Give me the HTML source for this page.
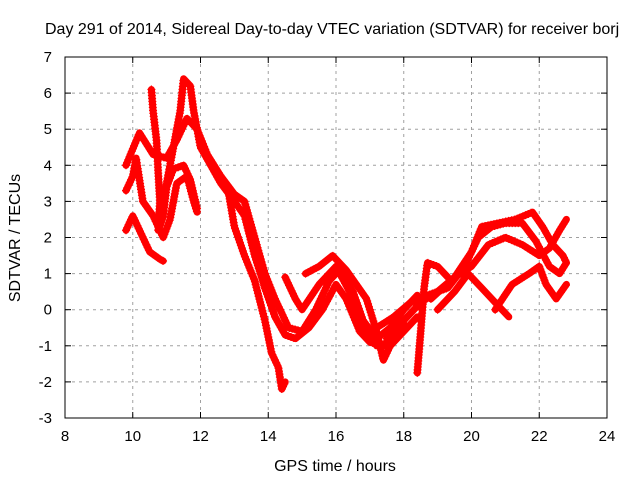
<!DOCTYPE html>
<html><head><meta charset="utf-8"><style>
body{margin:0;background:#fff}
svg text{font-family:"Liberation Sans",sans-serif;font-size:15px;fill:#000}
svg text.big{font-size:16px}
</style></head><body>
<svg id="c" width="640" height="480">
<text class="big" x="45" y="34">Day 291 of 2014, Sidereal Day-to-day VTEC variation (SDTVAR) for receiver borj</text>
<text class="big" x="335" y="471" text-anchor="middle">GPS time / hours</text>
<text class="big" x="20" y="238" text-anchor="middle" transform="rotate(-90 20 238)">SDTVAR / TECUs</text>
<g id="grid"></g><g id="marks"></g>
<rect x="65" y="57" width="542" height="361" fill="none" stroke="#000"/>
<g id="ticks"></g>
</svg>
<script>
const xTicks=[8,10,12,14,16,18,20,22,24];
const yTicks=[-3,-2,-1,0,1,2,3,4,5,6,7];
const track1=[[10.8,2.5],[11.0,3.5],[11.2,4.5],[11.4,5.5],[11.5,6.4],[11.7,6.2],[11.8,5.5],[12.0,4.5],[12.3,4.0],[12.6,3.5],[13.0,3.0],[13.3,2.6],[13.6,1.5],[13.9,0.6],[14.2,-0.2],[14.5,-0.7],[14.8,-0.8],[15.2,-0.5],[15.6,0.0],[16.0,0.7],[16.3,0.3],[16.7,-0.6],[17.0,-0.9],[17.4,-1.0]];
const track2=[[9.8,4.0],[10.2,4.9],[10.6,4.3],[11.0,4.2],[11.3,4.7],[11.6,5.3],[11.9,5.0],[12.2,4.3],[12.6,3.7],[13.0,3.2],[13.3,3.0],[13.6,2.0],[13.9,1.0],[14.2,0.3],[14.6,-0.5],[15.0,-0.6],[15.4,0.0],[15.8,0.8],[16.1,1.1],[16.5,0.5],[16.8,-0.3],[17.2,-0.8],[17.6,-0.5],[18.0,0.0],[18.4,0.4]];
const track3=[[10.55,6.1],[10.6,5.5],[10.7,4.7],[10.75,3.8],[10.8,3.0],[10.75,2.2],[10.9,2.6],[11.0,3.4],[11.2,3.9],[11.5,4.0],[11.7,3.6],[11.9,2.8]];
const track4=[[12.8,3.4],[13.0,2.3],[13.3,1.5],[13.6,0.8],[13.9,-0.3],[14.1,-1.2],[14.3,-1.6],[14.4,-2.2],[14.5,-2.0]];
const track5=[[9.8,2.2],[10.0,2.6],[10.3,2.0],[10.5,1.6],[10.8,1.4],[10.9,1.35]];
const track6=[[9.8,3.3],[10.0,3.7],[10.1,4.2],[10.3,3.0],[10.6,2.6],[10.9,2.0],[11.1,2.5],[11.3,3.5],[11.6,3.7],[11.8,3.0],[11.9,2.7]];
const track7=[[15.1,1.0],[15.5,1.2],[15.9,1.5],[16.3,1.1],[16.9,0.3],[17.2,-0.6],[17.4,-1.4],[17.6,-1.0],[18.0,-0.6],[18.4,-0.2]];
const track8=[[18.4,-1.75],[18.5,-0.6],[18.6,0.6],[18.7,1.3],[19.0,1.2],[19.3,0.9]];
const track9=[[17.5,-0.8],[18.0,-0.3],[18.5,0.2],[19.0,0.5],[19.5,0.9],[20.0,1.6],[20.3,2.3],[20.8,2.4],[21.3,2.5],[21.8,2.7],[22.1,2.3],[22.4,1.8],[22.7,1.5],[22.8,1.3]];
const track10=[[17.2,-0.5],[17.7,-0.2],[18.2,0.2],[18.7,0.4],[19.3,0.6],[19.8,1.2],[20.2,2.0],[20.6,2.3],[21.0,2.4],[21.5,2.4],[21.9,1.9],[22.3,1.2],[22.6,1.0],[22.8,1.3]];
const track11=[[19.0,0.0],[19.5,0.5],[19.9,1.0],[20.3,0.6],[20.8,0.1],[21.1,-0.2]];
const track12=[[20.7,0.0],[21.2,0.7],[21.7,1.0],[22.0,1.2],[22.2,0.7],[22.5,0.3],[22.8,0.7]];
const track13=[[18.8,0.3],[19.5,0.9],[20.0,1.2],[20.5,1.8],[21.0,2.0],[21.5,1.8],[22.0,1.5],[22.3,1.7],[22.6,2.2],[22.8,2.5]];
const track14=[[14.5,0.9],[14.8,0.3],[15.0,0.0],[15.5,0.7],[16.0,1.2],[16.4,0.5],[16.8,-0.4],[17.2,-1.0],[17.6,-0.9],[18.0,-0.4]];
const tracks=[track1,track2,track3,track4,track5,track6,track7,track8,track9,track10,track11,track12,track13,track14];
const X=v=>65+(v-8)*542/16, Y=v=>418-(v+3)*361/10;
const NS="http://www.w3.org/2000/svg";
const grid=document.getElementById('grid'),tk=document.getElementById('ticks'),mk=document.getElementById('marks');
function mkEl(t,a,p){const e=document.createElementNS(NS,t);for(const k in a)e.setAttribute(k,a[k]);p.appendChild(e);return e;}
xTicks.forEach(v=>{const x=X(v);
 if(v>8&&v<24){const g=mkEl('line',{x1:x,x2:x,y1:57,y2:418,stroke:'#a0a0a0','stroke-dasharray':'3,4'},grid);
 
 }
 mkEl('line',{x1:x,x2:x,y1:418,y2:412,stroke:'#000'},tk);mkEl('line',{x1:x,x2:x,y1:57,y2:63,stroke:'#000'},tk);
 const t=mkEl('text',{x:x,y:441,'text-anchor':'middle'},tk);t.textContent=v;
 
 });
yTicks.forEach(v=>{const y=Y(v);
 if(v>-3&&v<7){const g=mkEl('line',{x1:65,x2:607,y1:y,y2:y,stroke:'#a0a0a0','stroke-dasharray':'3,4'},grid);
 
 }
 mkEl('line',{x1:65,x2:71,y1:y,y2:y,stroke:'#000'},tk);mkEl('line',{x1:607,x2:601,y1:y,y2:y,stroke:'#000'},tk);
 const t=mkEl('text',{x:52,y:y+5,'text-anchor':'end'},tk);t.textContent=v;
 
 });
tracks.forEach(tr=>{
 const d=tr.map((p,i)=>(i?'L':'M')+X(p[0]).toFixed(1)+' '+Y(p[1]).toFixed(1)).join(' ');
 const path=mkEl('path',{d:d,fill:'none',stroke:'#ff0000','stroke-width':7,'stroke-linejoin':'round','stroke-linecap':'round'},mk);
 
 
 const L=path.getTotalLength();let s='';
 for(let l=0;l<=L;l+=3){const q=path.getPointAtLength(l);s+=`M${q.x-4} ${q.y}h8M${q.x} ${q.y-4}v8`;}
 const m=mkEl('path',{d:s,stroke:'#ff0000','stroke-width':1.2,fill:'none'},mk);
 
 
});
</script>
</body></html>
